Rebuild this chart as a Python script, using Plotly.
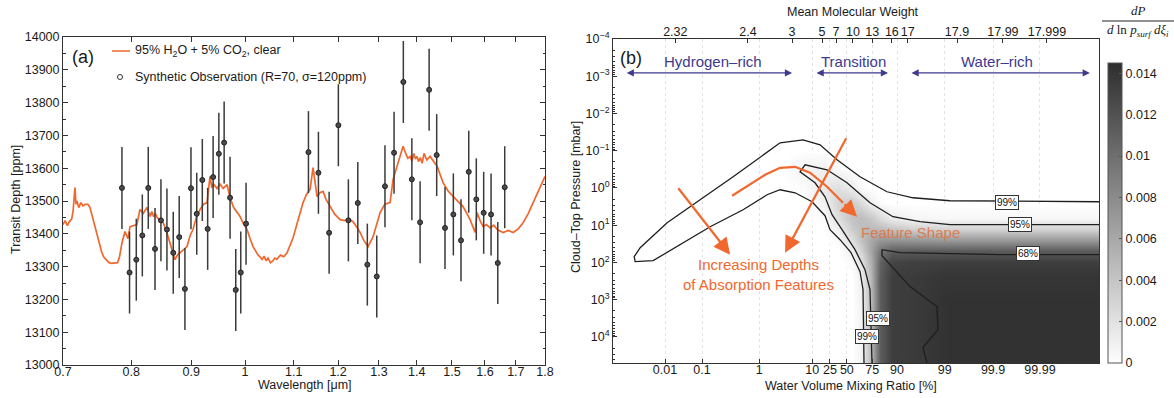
import numpy as np
import plotly.graph_objects as go

W, H = 1174, 398

# ---------------- Panel (a) data ----------------
model_wl = [0.700, 0.703, 0.706, 0.709, 0.712, 0.714, 0.7166, 0.718, 0.7194, 0.722, 0.725, 0.728,
            0.731, 0.735, 0.738, 0.741, 0.744, 0.747, 0.750, 0.7523, 0.755, 0.758, 0.7627, 0.766,
            0.770, 0.774, 0.779, 0.782, 0.7858, 0.7904, 0.7951, 0.7982, 0.803, 0.8091, 0.8139,
            0.819, 0.8252, 0.8301, 0.833, 0.836, 0.839, 0.8416, 0.8466, 0.8516, 0.857, 0.860,
            0.8633, 0.868, 0.8718, 0.876, 0.8804, 0.886, 0.8926, 0.898, 0.9031, 0.909, 0.9157,
            0.922, 0.9283, 0.9337, 0.937, 0.940, 0.9466, 0.952, 0.958, 0.9654, 0.9711, 0.978,
            0.984, 0.9903, 0.997, 1.004, 1.010, 1.0159, 1.022, 1.026, 1.0299, 1.034, 1.038,
            1.042, 1.046, 1.051, 1.0565, 1.060, 1.064, 1.072, 1.079, 1.0858, 1.0987, 1.105,
            1.112, 1.1204, 1.128, 1.1359, 1.1426, 1.1516, 1.158, 1.1652, 1.172, 1.1813, 1.192,
            1.2047, 1.215, 1.2245, 1.2358, 1.245, 1.2529, 1.262, 1.2727, 1.2852, 1.295, 1.303,
            1.315, 1.3287, 1.3366, 1.3497, 1.3551, 1.3630, 1.370, 1.376, 1.3819, 1.387, 1.392,
            1.3965, 1.4009, 1.405, 1.410, 1.415, 1.420, 1.428, 1.4371, 1.447, 1.4569, 1.4741,
            1.489, 1.5033, 1.5181, 1.5331, 1.5543, 1.5696, 1.5758, 1.585, 1.5944, 1.605, 1.6164,
            1.628, 1.640, 1.6581, 1.675, 1.6909, 1.708, 1.7244, 1.741, 1.7583, 1.776, 1.7932, 1.800]
model_td = [13428, 13440, 13425, 13438, 13445, 13470, 13541, 13490, 13500, 13480, 13495, 13485,
            13490, 13490, 13480, 13455, 13430, 13405, 13380, 13361, 13345, 13330, 13318, 13312,
            13310, 13310, 13312, 13330, 13373, 13407, 13385, 13422, 13425, 13428, 13474,
            13462, 13480, 13453, 13468, 13452, 13462, 13450, 13440, 13434, 13410, 13392,
            13373, 13340, 13321, 13335, 13342, 13350, 13361, 13395, 13413, 13450, 13474,
            13490, 13495, 13575, 13540, 13552, 13538, 13552, 13538, 13550, 13510, 13480,
            13468, 13453, 13430, 13413, 13385, 13361, 13345, 13335, 13330, 13322, 13332,
            13318, 13326, 13312, 13318, 13326, 13322, 13335, 13330, 13342, 13388, 13420,
            13460, 13495, 13520, 13535, 13602, 13513, 13525, 13529, 13505, 13483, 13460,
            13443, 13440, 13445, 13437, 13420, 13404, 13380, 13361, 13391, 13430, 13465,
            13490, 13495, 13566, 13618, 13636, 13667, 13645, 13630, 13636, 13622, 13645,
            13628, 13636, 13620, 13632, 13615, 13645, 13625, 13636, 13620, 13606, 13556,
            13530, 13514, 13500, 13483, 13443, 13404, 13465, 13440, 13422, 13428, 13418,
            13426, 13412, 13404, 13410, 13404, 13415, 13434, 13460, 13495, 13530, 13566, 13575]

obs_wl = [0.7857, 0.7975, 0.8081, 0.8177, 0.8273, 0.8383, 0.8481, 0.8581, 0.8688, 0.8790,
          0.8889, 0.8995, 0.9097, 0.9197, 0.9294, 0.9394, 0.9500, 0.9599, 0.9711, 0.9820,
          0.9917, 1.0020, 1.1323, 1.1547, 1.1791, 1.2007, 1.2245, 1.2473, 1.2708, 1.2945,
          1.3155, 1.3391, 1.3637, 1.3867, 1.4092, 1.4344, 1.4558, 1.4797, 1.5041, 1.5268,
          1.5502, 1.5733, 1.5962, 1.6195, 1.6409, 1.6634]
obs_td = [13540, 13282, 13321, 13395, 13540, 13354, 13441, 13413, 13342, 13390,
          13232, 13539, 13461, 13564, 13415, 13573, 13644, 13678, 13510, 13229,
          13282, 13431, 13649, 13586, 13403, 13731, 13441, 13494, 13306, 13270,
          13545, 13647, 13863, 13566, 13435, 13839, 13640, 13418, 13459, 13380,
          13589, 13505, 13464, 13459, 13311, 13542]
obs_sigma = 125

wl_ticks = [0.7, 0.8, 0.9, 1.0, 1.1, 1.2, 1.3, 1.4, 1.5, 1.6, 1.7, 1.8]
wl_ticktext = ['0.7', '0.8', '0.9', '1', '1.1', '1.2', '1.3', '1.4', '1.5', '1.6', '1.7', '1.8']
td_ticks = [13000, 13100, 13200, 13300, 13400, 13500, 13600, 13700, 13800, 13900, 14000]
td_ticktext = ['13000', '13100', '13200', '13300', '13400', '13500', '13600', '13700', '13800',
               '13900', '14000']

# ---------------- Panel (b) data ----------------
# x: transformed water-mixing-ratio coordinate (logit-like), y: log10 cloud-top pressure [mbar]
wmr_tick_pos = [-3.99, -3.20, -1.98, -0.85, -0.47, -0.11, 0.43, 0.96, 1.98, 3.01, 4.01]
wmr_tick_text = ['0.01', '0.1', '1', '10', '25', '50', '75', '90', '99', '99.9', '99.99']
mmw_tick_pos = [-3.77, -2.22, -1.28, -0.64, -0.34, 0.02, 0.43, 0.85, 1.19, 2.24, 3.22, 4.16]
mmw_tick_text = ['2.32', '2.4', '3', '5', '7', '10', '13', '16', '17', '17.9', '17.99', '17.999']
p_tick_pos = [-4, -3, -2, -1, 0, 1, 2, 3, 4]
p_tick_text = ['10<sup>\u22124</sup>', '10<sup>\u22123</sup>', '10<sup>\u22122</sup>', '10<sup>\u22121</sup>',
               '10<sup>0</sup>', '10<sup>1</sup>', '10<sup>2</sup>', '10<sup>3</sup>', '10<sup>4</sup>']
cb_ticks = [0, 0.002, 0.004, 0.006, 0.008, 0.010, 0.012, 0.014]
cb_ticktext = ['0', '0.002', '0.004', '0.006', '0.008', '0.01', '0.012', '0.014']

grid_x = [-5.3, -1.5, -1.0, -0.6, -0.3, 0.0, 0.2, 0.4, 0.6, 0.85, 1.3, 2.0, 3.5, 5.4]
grid_logp = [-4.2, -1.0, -0.5, 0.0, 0.4, 0.8, 1.1, 1.4, 1.7, 2.0, 2.4, 3.0, 4.0, 4.8]
density = [
    [0, 0, 0, 0, 0, 0, 0, 0, 0, 0, 0, 0, 0, 0],
    [0, 0, 0, 0, 0, 0, 0, 0, 0, 0, 0, 0, 0, 0],
    [0, 0, 0.0008, 0.0010, 0.0003, 0, 0, 0, 0, 0, 0, 0, 0, 0],
    [0, 0, 0.0002, 0.0015, 0.0022, 0.0012, 0.0002, 0, 0, 0, 0, 0, 0, 0],
    [0, 0, 0, 0.0008, 0.0030, 0.0035, 0.0025, 0.0010, 0.0002, 0, 0, 0, 0, 0],
    [0, 0, 0, 0.0002, 0.0022, 0.0042, 0.0045, 0.0038, 0.0025, 0.0012, 0.0006, 0.0004, 0.0004, 0.0004],
    [0, 0, 0, 0, 0.0010, 0.0035, 0.0045, 0.0048, 0.0045, 0.0040, 0.0032, 0.0030, 0.0030, 0.0030],
    [0, 0, 0, 0, 0.0003, 0.0022, 0.0042, 0.0060, 0.0072, 0.0074, 0.0072, 0.0070, 0.0070, 0.0070],
    [0, 0, 0, 0, 0, 0.0010, 0.0030, 0.0062, 0.0095, 0.0112, 0.0114, 0.0114, 0.0114, 0.0114],
    [0, 0, 0, 0, 0, 0.0003, 0.0018, 0.0055, 0.0108, 0.0130, 0.0132, 0.0134, 0.0134, 0.0134],
    [0, 0, 0, 0, 0, 0, 0.0010, 0.0050, 0.0112, 0.0134, 0.0136, 0.0140, 0.0140, 0.0140],
    [0, 0, 0, 0, 0, 0, 0.0008, 0.0048, 0.0112, 0.0134, 0.0136, 0.0142, 0.0142, 0.0142],
    [0, 0, 0, 0, 0, 0, 0.0008, 0.0048, 0.0112, 0.0134, 0.0136, 0.0142, 0.0142, 0.0142],
    [0, 0, 0, 0, 0, 0, 0.0008, 0.0048, 0.0112, 0.0134, 0.0136, 0.0142, 0.0142, 0.0142],
]

c99_x = [5.27, 2.09, 1.30, 0.746, 0.171, -0.320, -0.682, -1.045, -1.535, -2.026, -2.537, -3.241,
         -3.945, -4.520, -4.648, -4.627, -4.243, -3.028, -2.324, -1.812, -1.535, -1.215, -0.853,
         -0.576, -0.469, -0.256, -0.021, 0.171, 0.235, 0.256]
c99_logp = [0.37, 0.343, 0.263, 0.102, -0.300, -0.756, -1.158, -1.292, -1.212, -0.756, -0.300, 0.316,
            0.933, 1.603, 1.845, 1.979, 1.952, 1.040, 0.584, 0.182, 0.048, 0.129, 0.370,
            0.745, 1.121, 1.389, 1.737, 2.247, 2.729, 4.7]
c95_x = [5.27, 2.09, 1.45, 0.874, 0.384, -0.107, -0.533, -1.002, -1.109, -0.789, -0.576, -0.426,
         -0.213, 0.064, 0.277, 0.384, 0.426]
c95_logp = [0.987, 0.987, 0.906, 0.772, 0.397, -0.139, -0.488, -0.622, -0.434, -0.139, 0.236, 0.718,
            1.121, 1.657, 2.193, 2.729, 4.7]
c68_x = [5.27, 3.156, 1.023, 0.640, 0.640, 0.810, 1.237, 1.812, 1.834, 1.514, 1.599]
c68_logp = [1.791, 1.791, 1.737, 1.657, 1.818, 2.059, 2.649, 3.185, 3.802, 4.284, 4.7]
feat_x = [-2.559, -2.175, -1.855, -1.535, -1.215, -0.896, -0.533, -0.192]
feat_logp = [0.209, -0.086, -0.354, -0.542, -0.568, -0.408, -0.032, 0.397]

# ---------------- helpers ----------------
def fx(px):
    return px / W


def fy(py):
    return 1 - py / H


FONT = 'Liberation Sans, Arial, Helvetica, sans-serif'
ORANGE = '#f0682d'
BLUE = '#3d3a8f'
AX = '#333333'

fig = go.Figure()

# panel (a)
fig.add_trace(go.Scatter(x=model_wl, y=model_td, mode='lines', line=dict(color=ORANGE, width=1.7),
                         xaxis='x', yaxis='y', showlegend=False, hoverinfo='skip'))
fig.add_trace(go.Scatter(x=obs_wl, y=obs_td, mode='markers', xaxis='x', yaxis='y', showlegend=False,
                         marker=dict(symbol='circle', size=5, color='#4a4a4a', line=dict(color='#222', width=1)),
                         error_y=dict(type='constant', value=obs_sigma, color='#3a3a3a', thickness=1.5, width=0)))

# panel (b)
fig.add_trace(go.Heatmap(x=grid_x, y=grid_logp, z=density, xaxis='x2', yaxis='y2', zsmooth='best',
                         zmin=0, zmax=0.0145,
                         colorscale=[[0, 'rgba(255,255,255,0)'], [0.01, 'rgb(252,252,252)'], [1, 'rgb(46,46,46)']],
                         colorbar=dict(x=fx(1108), xanchor='left', xpad=0, y=fy(213), yanchor='middle', ypad=0,
                                       thickness=14, len=300, lenmode='pixels', outlinecolor='#555',
                                       outlinewidth=1, tickvals=cb_ticks, ticktext=cb_ticktext,
                                       ticks='inside', ticklen=3, tickcolor='#555',
                                       tickfont=dict(family=FONT, size=12.5, color='#1a1a1a')),
                         hoverinfo='skip'))
for cx, cy in [(c99_x, c99_logp), (c95_x, c95_logp), (c68_x, c68_logp)]:
    fig.add_trace(go.Scatter(x=cx, y=cy, mode='lines', line=dict(color='#1e1e1e', width=1.3),
                             xaxis='x2', yaxis='y2', showlegend=False, hoverinfo='skip'))
fig.add_trace(go.Scatter(x=feat_x, y=feat_logp, mode='lines', line=dict(color=ORANGE, width=2.2),
                         xaxis='x2', yaxis='y2', showlegend=False, hoverinfo='skip'))
fig.add_trace(go.Scatter(x=[mmw_tick_pos[0]], y=[0], mode='markers', marker=dict(opacity=0),
                         xaxis='x3', yaxis='y2', showlegend=False, hoverinfo='skip'))

tickfont = dict(family=FONT, size=12.5, color='#1a1a1a')
p_minor = [n + np.log10(k) for n in range(-4, 5) for k in range(2, 10) if n + np.log10(k) < 4.7]

fig.update_layout(
    width=W, height=H, autosize=False,
    margin=dict(l=0, r=0, t=0, b=0, pad=0, autoexpand=False),
    paper_bgcolor='white', plot_bgcolor='white', showlegend=False,
    font=dict(family=FONT, size=12.5, color='#1a1a1a'),
    xaxis=dict(domain=[fx(63), fx(545)], anchor='y', type='log',
               range=[np.log10(0.7), np.log10(1.8)], tickvals=wl_ticks, ticktext=wl_ticktext,
               ticks='inside', ticklen=5, tickcolor=AX, showline=True, linecolor=AX, linewidth=1,
               mirror='ticks', showgrid=False, zeroline=False, tickfont=tickfont, tickangle=0,
               automargin=False, ticklabelstandoff=-5),
    yaxis=dict(domain=[fy(365), fy(37)], anchor='x', range=[13000, 14000], tickvals=td_ticks,
               ticktext=td_ticktext,
               ticks='inside', ticklen=5, tickcolor=AX, showline=True, linecolor=AX, linewidth=1,
               mirror='allticks', showgrid=False, zeroline=False, tickfont=tickfont, automargin=False,
               minor=dict(dtick=50, ticks='inside', ticklen=2.5, tickcolor=AX)),
    xaxis2=dict(domain=[fx(613), fx(1099)], anchor='y2', range=[-5.1, 5.27], tickvals=wmr_tick_pos,
                ticktext=wmr_tick_text, ticks='inside', ticklen=4, tickcolor=AX, showline=True,
                linecolor=AX, linewidth=1, mirror=True, showgrid=True, gridcolor='#e2e2e2',
                griddash='dot', gridwidth=1, zeroline=False, tickfont=tickfont, tickangle=0,
                automargin=False, ticklabelstandoff=-5),
    xaxis3=dict(overlaying='x2', anchor='y2', side='top', range=[-5.1, 5.27], tickvals=mmw_tick_pos,
                ticktext=mmw_tick_text, ticks='inside', ticklen=4, tickcolor=AX, showline=False,
                showgrid=False, zeroline=False, tickfont=tickfont, tickangle=0, automargin=False),
    yaxis2=dict(domain=[fy(363), fy(39)], anchor='x2', range=[4.7, -4], tickvals=p_tick_pos,
                ticktext=p_tick_text, ticks='inside', ticklen=4, tickcolor=AX, showline=True,
                linecolor=AX, linewidth=1, mirror=True, showgrid=False, zeroline=False,
                tickfont=tickfont, automargin=False,
                minor=dict(tickvals=p_minor, ticks='inside', ticklen=2, tickcolor=AX)),
)

ann = []


def paper_text(txt, px, py, size=12.5, xanchor='center', angle=0, family=None, color=None):
    f = dict(size=size)
    if family:
        f['family'] = family
    if color:
        f['color'] = color
    ann.append(dict(text=txt, x=fx(px), y=fy(py), xref='paper', yref='paper', xanchor=xanchor,
                    yanchor='middle', textangle=angle, showarrow=False, font=f))


# axis titles
paper_text('Transit Depth [ppm]', 16, 200, angle=-90)
paper_text('Wavelength [\u03bcm]', 305, 385)
paper_text('Cloud\u2013Top Pressure [mbar]', 576, 197, angle=-90)
paper_text('Water Volume Mixing Ratio [%]', 851, 386)
paper_text('Mean Molecular Weight', 853, 12)
# panel labels
paper_text('(a)', 83, 57, size=18)
paper_text('(b)', 631, 58, size=18)
# legend (a)
paper_text('95% H<sub>2</sub>O + 5% CO<sub>2</sub>, clear', 133, 51, xanchor='left')
paper_text('Synthetic Observation (R=70, \u03c3=120ppm)', 133, 77, xanchor='left')
# colorbar title fraction
SERIF = 'Liberation Serif, DejaVu Serif, serif'
paper_text('<i>dP</i>', 1138, 10, size=13, family=SERIF)
paper_text('<i>d</i> ln <i>p<sub>surf</sub></i> <i>d\u03be<sub>i</sub></i>', 1138, 31, size=13, family=SERIF)

# region labels (b)
for txt, cx, a0, a1 in [('Hydrogen\u2013rich', -2.964, -4.840, -1.279),
                        ('Transition', 0.021, -0.789, 0.768),
                        ('Water\u2013rich', 3.092, 1.237, 5.075)]:
    ann.append(dict(text=txt, x=cx, y=-3.40, xref='x2', yref='y2', showarrow=False,
                    font=dict(size=15, color=BLUE)))
    ann.append(dict(text='', x=a1, y=-3.088, ax=a0, ay=-3.088, xref='x2', yref='y2', axref='x2',
                    ayref='y2', showarrow=True, arrowside='end+start', arrowhead=2, startarrowhead=2,
                    arrowsize=1.2, startarrowsize=1.2, arrowwidth=1.2, arrowcolor=BLUE))

# orange arrows and texts
for (tx, ty), (hx, hy) in [((-3.731, -0.032), (-2.601, 1.791)), ((-0.107, -1.373), (-1.429, 1.737))]:
    ann.append(dict(text='', x=hx, y=hy, ax=tx, ay=ty, xref='x2', yref='y2', axref='x2', ayref='y2',
                    showarrow=True, arrowhead=2, arrowsize=1.5, arrowwidth=2.2, arrowcolor=ORANGE))
ann.append(dict(text='', x=0.107, y=0.772, ax=feat_x[-1], ay=feat_logp[-1], xref='x2', yref='y2',
                axref='x2', ayref='y2', showarrow=True, arrowhead=2, arrowsize=1.5, arrowwidth=2.2,
                arrowcolor=ORANGE))
ann.append(dict(text='Increasing Depths<br>of Absorption Features', x=-2.004, y=2.33, xref='x2', yref='y2',
                showarrow=False, font=dict(size=15, color=ORANGE)))
ann.append(dict(text='Feature Shape', x=1.25, y=1.20, xref='x2', yref='y2', showarrow=False,
                font=dict(size=15, color='#e4713e'), opacity=0.85))

# contour labels
for txt, cx, cy in [('99%', 3.305, 0.397), ('95%', 3.582, 0.987), ('68%', 3.753, 1.764),
                    ('95%', 0.554, 3.507), ('99%', 0.320, 3.989)]:
    ann.append(dict(text=txt, x=cx, y=cy, xref='x2', yref='y2', showarrow=False,
                    font=dict(size=10, color='#111'), bgcolor='white', bordercolor='#333',
                    borderwidth=1, borderpad=1))

fig.update_layout(annotations=ann)

shapes = [
    dict(type='line', xref='paper', yref='paper', x0=fx(112), x1=fx(130), y0=fy(51), y1=fy(51),
         line=dict(color=ORANGE, width=1.5)),
    dict(type='circle', xref='paper', yref='paper', x0=fx(117.5), x1=fx(122.5), y0=fy(79.5), y1=fy(74.5),
         line=dict(color='#333', width=1)),
    dict(type='line', xref='paper', yref='paper', x0=fx(1102), x1=fx(1174), y0=fy(21), y1=fy(21),
         line=dict(color='#222', width=1)),
]
fig.update_layout(shapes=shapes)

fig.write_html('out.html', config={'displayModeBar': False},
               post_script="document.body.style.margin='0px';document.body.style.padding='0px';")
